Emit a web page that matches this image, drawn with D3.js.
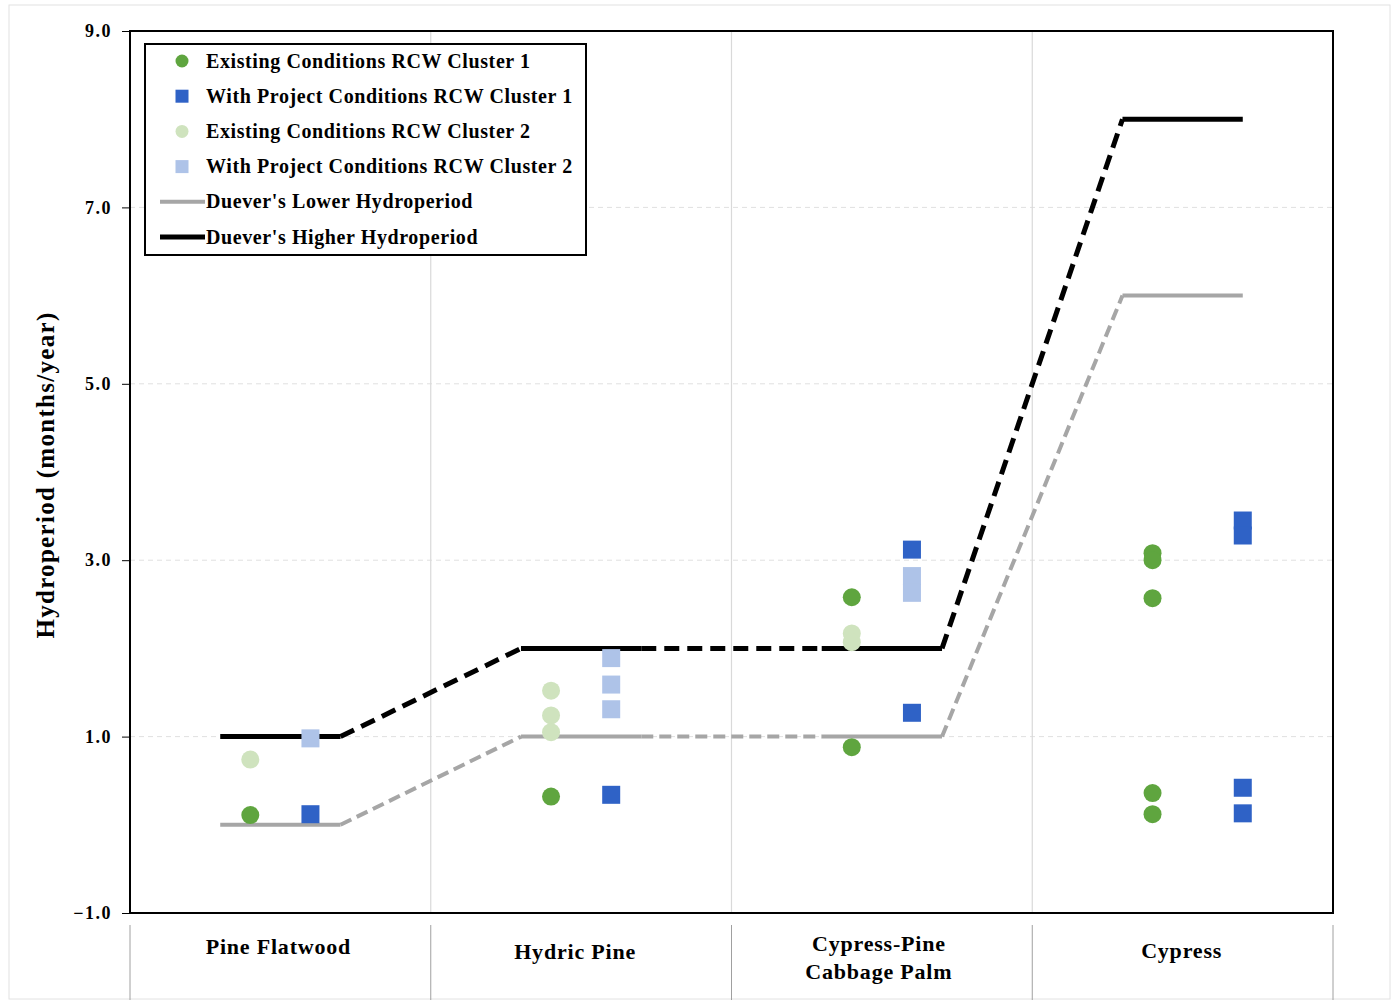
<!DOCTYPE html>
<html><head><meta charset="utf-8">
<script src="https://cdn.jsdelivr.net/npm/d3@7"></script>
<style>body{margin:0;background:#fff}svg{display:block}</style>
</head><body>
<svg id="c" width="1398" height="1004"></svg>
<script>
// ---- data ----
const categories = ["Pine Flatwood", "Hydric Pine", "Cypress-Pine\nCabbage Palm", "Cypress"];
const yTicks = [-1, 1, 3, 5, 7, 9];

// x positions along the category axis (0..4) and hydroperiod values
const existingC1X = [0.4, 1.4, 2.4, 2.4, 3.4, 3.4, 3.4, 3.4, 3.4];
const existingC1Y = [0.11, 0.32, 2.58, 0.88, 3.08, 3.0, 2.57, 0.36, 0.12];
const projectC1X = [0.6, 1.6, 2.6, 2.6, 3.7, 3.7, 3.7, 3.7];
const projectC1Y = [0.12, 0.34, 3.12, 1.27, 3.45, 3.28, 0.42, 0.13];
const existingC2X = [0.4, 1.4, 1.4, 1.4, 2.4, 2.4];
const existingC2Y = [0.74, 1.52, 1.24, 1.05, 2.17, 2.07];
const projectC2X = [0.6, 1.6, 1.6, 1.6, 2.6, 2.6];
const projectC2Y = [0.98, 1.89, 1.59, 1.31, 2.82, 2.63];

const dueverX = [0.3, 0.7, 1.3, 1.7, 2.3, 2.7, 3.3, 3.7];
const dueverLower = [0, 0, 1, 1, 1, 1, 6, 6];
const dueverHigher = [1, 1, 2, 2, 2, 2, 8, 8];

const legendLabels = ["Existing Conditions RCW Cluster 1", "With Project Conditions RCW Cluster 1",
  "Existing Conditions RCW Cluster 2", "With Project Conditions RCW Cluster 2",
  "Duever's Lower Hydroperiod", "Duever's Higher Hydroperiod"];

// ---- layout ----
const svg = d3.select("#c");
const L = 130, R = 1333, T = 31, B = 913;
const x = d3.scaleLinear().domain([0, 4]).range([L, R]);
const y = d3.scaleLinear().domain([-1, 9]).range([B, T]);
const font = "'Liberation Serif','Times New Roman',serif";

const C = {ex1: "#5FA53F", pr1: "#2F62C6", ex2: "#CFE3BE", pr2: "#AEC3E8", low: "#A6A6A6", high: "#000"};

// faint outer frame
svg.append("rect").attr("x", 9).attr("y", 5).attr("width", 1381).attr("height", 994)
  .attr("fill", "none").attr("stroke", "#e2e2e2").attr("stroke-width", 1);

// gridlines
svg.append("g").selectAll("line").data([1, 3, 5, 7]).join("line")
  .attr("x1", L).attr("x2", R).attr("y1", d => y(d)).attr("y2", d => y(d))
  .attr("stroke", "#e0e0e0").attr("stroke-width", 1).attr("stroke-dasharray", "5,4");
svg.append("g").selectAll("line").data([1, 2, 3]).join("line")
  .attr("x1", d => x(d)).attr("x2", d => x(d)).attr("y1", T).attr("y2", B)
  .attr("stroke", "#d9d9d9").attr("stroke-width", 1.2);

// Y axis
const yAxis = d3.axisLeft(y).tickValues(yTicks).tickFormat(d3.format(".1f")).tickSize(8).tickPadding(10);
const ya = svg.append("g").attr("transform", `translate(${L},0)`).call(yAxis);
ya.select(".domain").remove();
ya.selectAll("line").attr("stroke", "#000").attr("stroke-width", 1);
ya.selectAll("text").attr("font-family", font).attr("font-weight", "bold").attr("font-size", 18)
  .attr("letter-spacing", 1.5).attr("fill", "#000");

svg.append("text").attr("transform", `translate(54,${(T + B) / 2 + 3}) rotate(-90)`)
  .attr("text-anchor", "middle").attr("font-family", font).attr("font-weight", "bold")
  .attr("font-size", 25).attr("letter-spacing", 1.3).text("Hydroperiod (months/year)");

// category table under plot
svg.append("g").selectAll("line").data([0, 1, 2, 3, 4]).join("line")
  .attr("x1", d => x(d)).attr("x2", d => x(d)).attr("y1", 925).attr("y2", 1000)
  .attr("stroke", "#a0a0a0").attr("stroke-width", 1);
const catG = svg.append("g");
const catBase = [954, 959, 951, 958];
const catShift = [-2, -6, -3, -1];
categories.forEach((c, i) => {
  const lines = c.split("\n");
  const cx = x(i + 0.5) + catShift[i];
  lines.forEach((t, j) => {
    catG.append("text").attr("x", cx).attr("y", catBase[i] + j * 28).attr("text-anchor", "middle")
      .attr("font-family", font).attr("font-weight", "bold").attr("font-size", 22)
      .attr("letter-spacing", 0.8).text(t);
  });
});

// Duever lines: solid within categories, dashed between
function drawDuever(vals, color, w, dash) {
  for (let i = 0; i < dueverX.length - 1; i++) {
    const solid = i % 2 === 0;
    svg.append("line")
      .attr("x1", x(dueverX[i])).attr("y1", y(vals[i]))
      .attr("x2", x(dueverX[i + 1])).attr("y2", y(vals[i + 1]))
      .attr("stroke", color).attr("stroke-width", w)
      .attr("stroke-dasharray", solid ? null : dash);
  }
}
drawDuever(dueverLower, C.low, 4, "12,6");
drawDuever(dueverHigher, C.high, 5, "15,8");

// points
function circles(xs, ys, col) {
  svg.append("g").selectAll("circle").data(xs.map((d, i) => [d, ys[i]])).join("circle")
    .attr("cx", d => x(d[0])).attr("cy", d => y(d[1])).attr("r", 9).attr("fill", col);
}
function squares(xs, ys, col) {
  svg.append("g").selectAll("rect").data(xs.map((d, i) => [d, ys[i]])).join("rect")
    .attr("x", d => x(d[0]) - 9).attr("y", d => y(d[1]) - 9).attr("width", 18).attr("height", 18).attr("fill", col);
}
circles(existingC2X, existingC2Y, C.ex2);
squares(projectC2X, projectC2Y, C.pr2);
circles(existingC1X, existingC1Y, C.ex1);
squares(projectC1X, projectC1Y, C.pr1);

// plot border
svg.append("rect").attr("x", L).attr("y", T).attr("width", R - L).attr("height", B - T)
  .attr("fill", "none").attr("stroke", "#000").attr("stroke-width", 2);

// legend
const lg = svg.append("g");
lg.append("rect").attr("x", 145).attr("y", 44).attr("width", 441).attr("height", 211)
  .attr("fill", "#fff").attr("stroke", "#000").attr("stroke-width", 2);
const kinds = ["c1", "s1", "c2", "s2", "l", "h"];
legendLabels.forEach((t, i) => {
  const yy = 61 + i * 35.2;
  const k = kinds[i];
  if (k === "c1" || k === "c2") lg.append("circle").attr("cx", 182).attr("cy", yy).attr("r", 6.5).attr("fill", k === "c1" ? C.ex1 : C.ex2);
  else if (k === "s1" || k === "s2") lg.append("rect").attr("x", 175.5).attr("y", yy - 6.5).attr("width", 13).attr("height", 13).attr("fill", k === "s1" ? C.pr1 : C.pr2);
  else lg.append("line").attr("x1", 160).attr("x2", 205).attr("y1", yy).attr("y2", yy)
    .attr("stroke", k === "l" ? C.low : C.high).attr("stroke-width", k === "l" ? 4 : 5);
  lg.append("text").attr("x", 206).attr("y", yy + 6.5).attr("font-family", font).attr("font-weight", "bold")
    .attr("font-size", 20).attr("letter-spacing", 0.6).text(t);
});
</script>
</body></html>
